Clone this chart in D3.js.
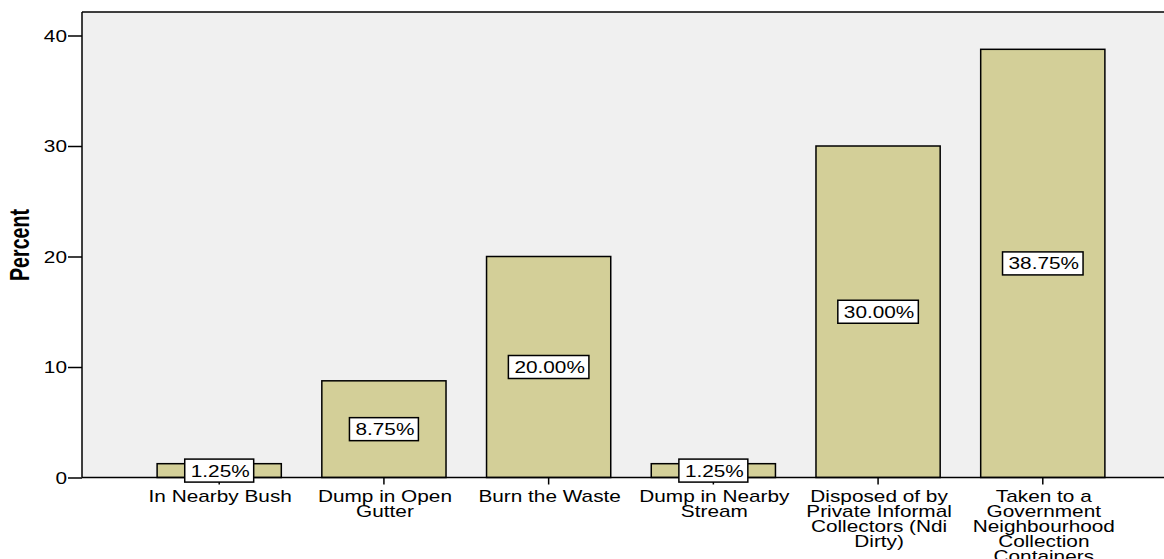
<!DOCTYPE html>
<html>
<head>
<meta charset="utf-8">
<script src="https://cdn.jsdelivr.net/npm/d3@7/dist/d3.min.js"></script>
<style>
  html, body { margin: 0; padding: 0; background: #ffffff; }
  svg { display: block; }
  .lbl { font-family: "Liberation Sans", Arial, sans-serif; font-size: 16px; fill: #000; }
</style>
</head>
<body>
<svg id="chart" width="1164" height="559"></svg>
<script>
// Household waste disposal methods, percent of respondents
const categories = [
  "In Nearby Bush",
  "Dump in Open Gutter",
  "Burn the Waste",
  "Dump in Nearby Stream",
  "Disposed of by Private Informal Collectors (Ndi Dirty)",
  "Taken to a Government Neighbourhood Collection Containers"
];
const categoryLines = [
  ["In Nearby Bush"],
  ["Dump in Open", "Gutter"],
  ["Burn the Waste"],
  ["Dump in Nearby", "Stream"],
  ["Disposed of by", "Private Informal", "Collectors (Ndi", "Dirty)"],
  ["Taken to a", "Government", "Neighbourhood", "Collection", "Containers"]
];
const percents = [1.25, 8.75, 20.00, 1.25, 30.00, 38.75];
const yTicks = [0, 10, 20, 30, 40];

const width = 1164, height = 559;
const plotLeft = 82, plotTop = 12, plotRight = 1180, baseY = 477.5;
const stretch = 1.3; // wide rendering of the label type

const svg = d3.select("#chart");

const x = d3.scaleBand()
  .domain(categories)
  .range([plotLeft, plotRight])
  .paddingInner(0.246)
  .paddingOuter(0.456);

const y = d3.scaleLinear()
  .domain([0, 40])
  .range([baseY, 35.5]);

// draws a horizontally widened label anchored at (px, py)
function wideText(parent, px, py, str, anchor) {
  return parent.append("text")
    .attr("class", "lbl")
    .attr("text-anchor", anchor)
    .attr("transform", `translate(${px},${py}) scale(${stretch},1)`)
    .text(str);
}

// plot background
svg.append("rect")
  .attr("x", plotLeft).attr("y", plotTop)
  .attr("width", plotRight - plotLeft).attr("height", baseY - plotTop)
  .attr("fill", "#f0f0f0");

// frame top line
svg.append("line")
  .attr("x1", plotLeft).attr("x2", width)
  .attr("y1", plotTop).attr("y2", plotTop)
  .attr("stroke", "#000").attr("stroke-width", 1.5);

// bars
svg.append("g").selectAll("rect")
  .data(percents)
  .join("rect")
  .attr("x", (d, i) => x(categories[i]))
  .attr("y", d => y(d))
  .attr("width", x.bandwidth())
  .attr("height", d => y(0) - y(d))
  .attr("fill", "#d3cf98")
  .attr("stroke", "#000")
  .attr("stroke-width", 1.5);

// y axis
const yAxis = d3.axisLeft(y).tickValues(yTicks).tickSize(14).tickFormat("");
const gy = svg.append("g").attr("transform", `translate(${plotLeft},0)`).call(yAxis);
gy.select(".domain").attr("d", `M0,${plotTop}V${baseY}`).attr("stroke-width", 1.5);
gy.selectAll(".tick line").attr("stroke-width", 1.5);
const yLab = svg.append("g");
yTicks.forEach(t => wideText(yLab, plotLeft - 15, y(t) + 6, d3.format("d")(t), "end"));

// x axis
const xAxis = d3.axisBottom(x).tickSize(7).tickFormat("");
const gx = svg.append("g").attr("transform", `translate(0,${baseY})`).call(xAxis);
gx.select(".domain").attr("d", `M${plotLeft},0H${width}`).attr("stroke-width", 1.5);
gx.selectAll(".tick line").attr("stroke-width", 1.5);

// category labels (multi-line)
const catG = svg.append("g");
categories.forEach((c, i) => {
  const cx = x(c) + x.bandwidth() / 2 + 1;
  categoryLines[i].forEach((line, j) => wideText(catG, cx, 501.5 + j * 15, line, "middle"));
});

// value labels in boxes at bar mid-height
const valG = svg.append("g");
percents.forEach((v, i) => {
  const cx = x(categories[i]) + x.bandwidth() / 2;
  const cy = (y(v) + y(0)) / 2;
  const g = valG.append("g");
  const txt = wideText(g, cx + 1, cy + 6, d3.format(".2f")(v) + "%", "middle");
  const w = txt.node().getBBox().width * stretch;
  g.insert("rect", "text")
    .attr("x", cx - w / 2 - 5)
    .attr("y", cy - 11.5)
    .attr("width", w + 10)
    .attr("height", 23)
    .attr("fill", "#fff")
    .attr("stroke", "#000")
    .attr("stroke-width", 1.5);
});

// y axis title
svg.append("text")
  .attr("transform", `translate(29,245) rotate(-90)`)
  .attr("text-anchor", "middle")
  .attr("font-family", "'Liberation Sans', Arial, sans-serif")
  .attr("font-weight", "bold")
  .attr("font-size", 28)
  .attr("textLength", 72)
  .attr("lengthAdjust", "spacingAndGlyphs")
  .text("Percent");
</script>
</body>
</html>
